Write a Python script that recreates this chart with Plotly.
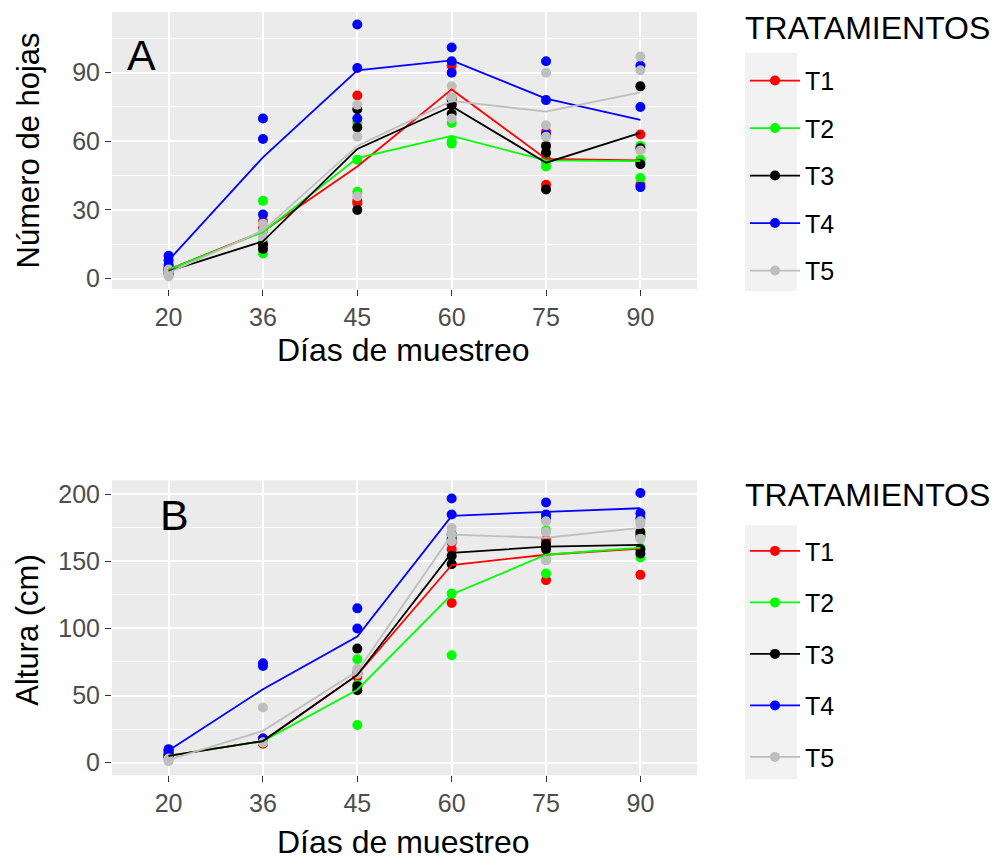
import numpy as np
import plotly.graph_objects as go

days = ["20", "36", "45", "60", "75", "90"]
treatments = ["T1", "T2", "T3", "T4", "T5"]
colors = ["#FF0000", "#00FF00", "#000000", "#0000FF", "#BEBEBE"]

# Panel A: Número de hojas (replicates per sampling day)
hojas_T1 = [[3, 4, 5], [15, 22, 25], [80, 34, 33], [93, 76, 79], [64, 41, 52], [63, 51, 41]]
hojas_T2 = [[3, 4, 5], [34, 11, 16], [68, 52, 38], [68, 60, 59], [49, 55, 51], [58, 52, 44]]
hojas_T3 = [[2, 4, 4], [13, 15, 21], [74, 66, 30], [78, 76, 72], [58, 55, 39], [84, 57, 50]]
hojas_T4 = [[6, 8, 10], [70, 61, 28], [111, 92, 70], [101, 95, 90], [95, 78, 63], [93, 75, 40]]
hojas_T5 = [[1, 3, 4], [24, 21, 18], [76, 62, 36], [84, 79, 70], [90, 67, 62], [97, 91, 56]]

# Panel B: Altura (cm)
altura_T1 = [[4, 5, 6], [14, 16, 18], [66, 64, 66], [164, 159, 119], [166, 163, 136], [170, 169, 140]]
altura_T2 = [[4, 5, 6], [15, 16, 17], [77, 58, 28], [170, 126, 80], [173, 151, 141], [168, 160, 153]]
altura_T3 = [[4, 5, 6], [15, 16, 17], [85, 57, 54], [167, 154, 148], [161, 163, 159], [172, 159, 156]]
altura_T4 = [[8, 9, 10], [74, 72, 18], [115, 100, 67], [197, 185, 170], [194, 182, 185], [201, 186, 182]]
altura_T5 = [[1, 2, 3], [41, 15, 15], [70, 68, 66], [175, 170, 165], [180, 172, 151], [180, 178, 167]]

hojas = [hojas_T1, hojas_T2, hojas_T3, hojas_T4, hojas_T5]
altura = [altura_T1, altura_T2, altura_T3, altura_T4, altura_T5]

FONT = "Liberation Sans, Arial, sans-serif"
W, H = 997, 861
TITLE_SIZE = 32
YTITLE_SIZE = 31
TICK_SIZE = 25
LEG_SIZE = 25

fig = go.Figure()


def add_panel(data, xa, ya, legend_name, gidx):
    for i, (tr, col) in enumerate(zip(treatments, colors)):
        reps = data[i]
        xs = [d for d, r in zip(days, reps) for _ in r]
        ys = [v for r in reps for v in r]
        fig.add_trace(go.Scatter(x=xs, y=ys, mode="markers", xaxis=xa, yaxis=ya,
                                 marker=dict(color=col, size=10), showlegend=False,
                                 hoverinfo="x+y", name=tr))
    for i, (tr, col) in enumerate(zip(treatments, colors)):
        means = [float(np.mean(r)) for r in data[i]]
        fig.add_trace(go.Scatter(x=days, y=means, mode="lines", xaxis=xa, yaxis=ya,
                                 line=dict(color=col, width=1.8), showlegend=False, name=tr))
    for i, (tr, col) in enumerate(zip(treatments, colors)):
        fig.add_trace(go.Scatter(x=[None], y=[None], mode="lines+markers", xaxis=xa, yaxis=ya,
                                 line=dict(color=col, width=1.8), marker=dict(color=col, size=10),
                                 name=tr, legend=legend_name, legendgroup=f"{gidx}{tr}",
                                 showlegend=True))


add_panel(hojas, "x", "y", "legend", "A")
add_panel(altura, "x2", "y2", "legend2", "B")

xdom = [112 / W, 697 / W]
yA = [(H - 290) / H, (H - 12) / H]
yB = [(H - 778) / H, (H - 482) / H]

common_x = dict(type="category", categoryorder="array", categoryarray=days,
                range=[-0.6, 5.6], showgrid=True, gridcolor="white", gridwidth=1.5,
                ticks="outside", ticklen=6, tickwidth=1.2, tickcolor="#333333",
                tickfont=dict(family=FONT, size=TICK_SIZE, color="#4D4D4D"),
                showline=False, zeroline=False, domain=xdom, fixedrange=True)
common_y = dict(showgrid=True, gridcolor="white", gridwidth=1.5,
                ticks="outside", ticklen=6, tickwidth=1.2, tickcolor="#333333",
                tickfont=dict(family=FONT, size=TICK_SIZE, color="#4D4D4D"),
                showline=False, zeroline=False, fixedrange=True)

fig.update_layout(
    width=W, height=H, margin=dict(l=0, r=0, t=0, b=0),
    paper_bgcolor="white", plot_bgcolor="#EBEBEB",
    font=dict(family=FONT, color="black"),
    xaxis=dict(common_x, anchor="y"),
    xaxis2=dict(common_x, anchor="y2"),
    yaxis=dict(common_y, domain=yA, anchor="x", range=[-4.5, 116.5], tick0=0, dtick=30,
               minor=dict(dtick=15, tick0=0, showgrid=True, gridcolor="white", gridwidth=0.7, ticks="")),
    yaxis2=dict(common_y, domain=yB, anchor="x2", range=[-9.5, 210.5], tick0=0, dtick=50,
                minor=dict(dtick=25, tick0=0, showgrid=True, gridcolor="white", gridwidth=0.7, ticks="")),
    legend=dict(x=745 / W, y=(H - 58) / H, xanchor="left", yanchor="top",
                font=dict(family=FONT, size=LEG_SIZE, color="black"), bgcolor="rgba(0,0,0,0)",
                tracegroupgap=12, itemwidth=50),
    legend2=dict(x=745 / W, y=(H - 530) / H, xanchor="left", yanchor="top",
                 font=dict(family=FONT, size=LEG_SIZE, color="black"), bgcolor="rgba(0,0,0,0)",
                 tracegroupgap=16, itemwidth=50),
    showlegend=True,
)

# legend key backgrounds (ggplot legend.key)
for (y0, y1) in [(53, 292), (527, 782)]:
    fig.add_shape(type="rect", xref="paper", yref="paper", x0=745 / W, x1=797 / W,
                  y0=(H - y1) / H, y1=(H - y0) / H, fillcolor="#F2F2F2", line_width=0, layer="below")

ann = [
    dict(text="Número de hojas", x=28 / W, y=(H - 151) / H, textangle=-90, size=YTITLE_SIZE, xa="center"),
    dict(text="Días de muestreo", x=403.5 / W, y=(H - 351) / H, textangle=0, size=TITLE_SIZE, xa="center"),
    dict(text="Altura (cm)", x=28 / W, y=(H - 632) / H, textangle=-90, size=YTITLE_SIZE, xa="center"),
    dict(text="Días de muestreo", x=403.5 / W, y=(H - 845) / H, textangle=0, size=TITLE_SIZE, xa="center"),
    dict(text="A", x=141 / W, y=(H - 55) / H, textangle=0, size=43, xa="center"),
    dict(text="B", x=174.5 / W, y=(H - 517) / H, textangle=0, size=43, xa="center"),
    dict(text="TRATAMIENTOS", x=743 / W, y=(H - 28) / H, textangle=0, size=TITLE_SIZE, xa="left"),
    dict(text="TRATAMIENTOS", x=743 / W, y=(H - 497) / H, textangle=0, size=TITLE_SIZE, xa="left"),
]
for a in ann:
    fig.add_annotation(text=a["text"], x=a["x"], y=a["y"], xref="paper", yref="paper",
                       xanchor=a["xa"], yanchor="middle", textangle=a["textangle"],
                       showarrow=False, font=dict(family=FONT, size=a["size"], color="black"))

fig.write_html("out.html")
